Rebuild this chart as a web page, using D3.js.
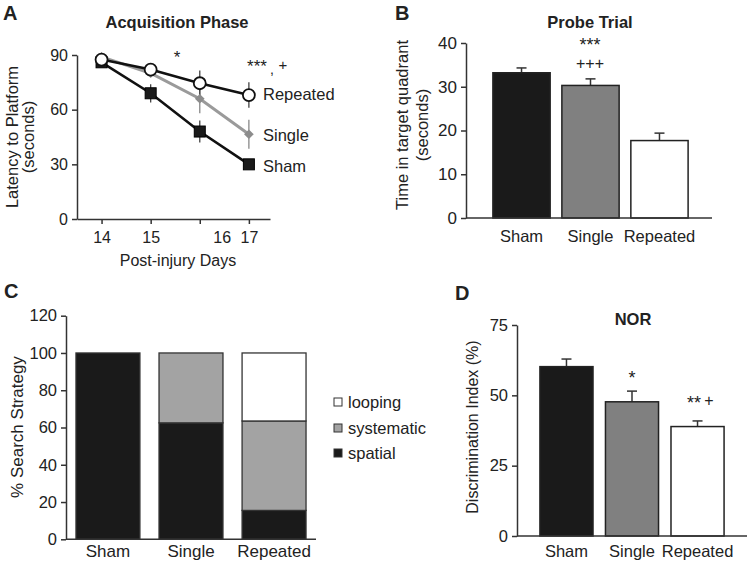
<!DOCTYPE html>
<html><head><meta charset="utf-8">
<script src="https://cdn.jsdelivr.net/npm/d3@7"></script>
<style>
html,body{margin:0;padding:0;background:#fff;}
text{font-family:"Liberation Sans",Arial,Helvetica,sans-serif;fill:#222;}
</style></head>
<body>
<svg id="c" width="747" height="563"></svg>
<script>
// ---------- Data ----------
const days = [14, 15, 16, 17];
const dayTicks = [14, 15, 16, 17];
const shamLatency = [86, 69, 48, 30];
const shamLatErr = [1.5, 5, 6, 1.5];
const singleLatency = [89, 80, 66, 46.5];
const singleLatErr = [1, 2, 8, 8];
const repeatedLatency = [87.5, 82, 74.5, 68];
const repeatedLatErr = [1.5, 1.5, 7, 7];
const latencyTicks = [0, 30, 60, 90];

const groups = ["Sham", "Single", "Repeated"];
const probeTime = [33.2, 30.3, 17.7];
const probeErr = [1.1, 1.5, 1.7];
const probeTicks = [0, 10, 20, 30, 40];

const strategies = ["spatial", "systematic", "looping"];
const spatialPct = [100, 62.5, 15.5];
const systematicPct = [0, 37.5, 48];
const loopingPct = [0, 0, 36.5];
const strategyTicks = [0, 20, 40, 60, 80, 100, 120];
const legendOrder = ["looping", "systematic", "spatial"];

const discIndex = [60.2, 47.7, 38.9];
const discErr = [2.7, 3.8, 2.0];
const discTicks = [0, 25, 50, 75];

const groupFill = ["#1a1a1a", "#808080", "#ffffff"];
const strategyFill = {spatial: "#1a1a1a", systematic: "#a3a3a3", looping: "#ffffff"};

// ---------- Helpers ----------
const svg = d3.select("#c");
svg.append("rect").attr("width", 747).attr("height", 563).attr("fill", "#fff");
const AX = "#333";

function styleAxis(g, fs) {
  g.selectAll("path.domain").attr("stroke", AX).attr("stroke-width", 1.5);
  g.selectAll(".tick line").attr("stroke", AX).attr("stroke-width", 1.5);
  g.selectAll(".tick text").attr("font-size", fs).attr("fill", "#222")
    .style("font-family", '"Liberation Sans",Arial,sans-serif');
}
function txt(x, y, s, opt = {}) {
  const t = svg.append("text").attr("x", x).attr("y", y).text(s)
    .attr("font-size", opt.fs || 15)
    .attr("text-anchor", opt.anchor || "start")
    .attr("font-weight", opt.bold ? "bold" : "normal");
  if (opt.rot) t.attr("transform", `rotate(-90,${x},${y})`);
  if (opt.ls) t.attr("letter-spacing", opt.ls);
  return t;
}

// ---------- Panel A ----------
{
  const x = d3.scaleLinear().domain([13.5, 17.43]).range([77, 270]);
  const y = d3.scaleLinear().domain([0, 90]).range([219, 55]);
  const gy = svg.append("g").attr("transform", "translate(77,0)")
    .call(d3.axisLeft(y).tickValues(latencyTicks).tickSize(5).tickSizeOuter(0).tickPadding(4));
  styleAxis(gy, 16);
  const gx = svg.append("g").attr("transform", "translate(0,219)")
    .call(d3.axisBottom(x).tickValues(dayTicks).tickFormat(d3.format("d")).tickSize(5).tickSizeOuter(0).tickPadding(8));
  styleAxis(gx, 16);
  gx.selectAll(".tick text").filter(d => d === 16).attr("dx", 22);

  const series = [
    {v: shamLatency, e: shamLatErr, color: "#111", w: 2.6, shape: "square"},
    {v: singleLatency, e: singleLatErr, color: "#9a9a9a", w: 3, shape: "diamond"},
    {v: repeatedLatency, e: repeatedLatErr, color: "#111", w: 2.6, shape: "circle"}
  ];
  series.forEach(s => {
    days.forEach((d, i) => {
      svg.append("line").attr("x1", x(d)).attr("x2", x(d))
        .attr("y1", y(s.v[i] - s.e[i])).attr("y2", y(s.v[i] + s.e[i]))
        .attr("stroke", s.shape === "diamond" ? "#888" : "#444").attr("stroke-width", 1.3);
    });
  });
  const line = d3.line().x((d, i) => x(days[i])).y(d => y(d));
  series.forEach(s => {
    svg.append("path").datum(s.v).attr("d", line).attr("fill", "none")
      .attr("stroke", s.color).attr("stroke-width", s.w);
  });
  series.forEach(s => {
    days.forEach((d, i) => {
      const cx = x(d), cy = y(s.v[i]);
      if (s.shape === "square") {
        svg.append("rect").attr("x", cx - 5.5).attr("y", cy - 5.5).attr("width", 11).attr("height", 11)
          .attr("fill", "#1a1a1a").attr("stroke", "#000").attr("stroke-width", 1);
      } else if (s.shape === "diamond") {
        svg.append("path").attr("d", d3.symbol(d3.symbolDiamond2, 60)())
          .attr("transform", `translate(${cx},${cy})`).attr("fill", "#8c8c8c");
      } else {
        svg.append("circle").attr("cx", cx).attr("cy", cy).attr("r", 6)
          .attr("fill", "#fff").attr("stroke", "#111").attr("stroke-width", 1.8);
      }
    });
  });
  txt(263, 100, "Repeated", {fs: 16.5});
  txt(263, 141, "Single", {fs: 16.5});
  txt(263, 172, "Sham", {fs: 16.5});
  txt(177, 63, "*", {fs: 17, anchor: "middle"});
  txt(257, 72, "***", {fs: 17, anchor: "middle"});
  txt(272, 74, ",", {fs: 14, anchor: "middle"});
  txt(283, 70, "+", {fs: 15, anchor: "middle"});
  txt(177, 28, "Acquisition Phase", {fs: 16.5, anchor: "middle", bold: true});
  txt(3, 20, "A", {fs: 20, bold: true});
  txt(18, 137, "Latency to Platform", {fs: 16.5, anchor: "middle", rot: true});
  txt(34, 137, "(seconds)", {fs: 16.5, anchor: "middle", rot: true});
  txt(178, 266, "Post-injury Days", {fs: 16, anchor: "middle"});
}

// ---------- Panel B ----------
{
  const x = d3.scaleBand().domain(groups).range([486, 695]).paddingInner(0.17).paddingOuter(0.1);
  const y = d3.scaleLinear().domain([0, 40]).range([218, 43]);
  const gy = svg.append("g").attr("transform", "translate(466,0)")
    .call(d3.axisLeft(y).tickValues(probeTicks).tickSize(5).tickSizeOuter(0).tickPadding(4));
  styleAxis(gy, 17);
  groups.forEach((g, i) => {
    const cx = x(g) + x.bandwidth() / 2;
    svg.append("line").attr("x1", cx).attr("x2", cx).attr("y1", y(probeTime[i]))
      .attr("y2", y(probeTime[i] + probeErr[i])).attr("stroke", "#333").attr("stroke-width", 1.5);
    svg.append("line").attr("x1", cx - 5).attr("x2", cx + 5).attr("y1", y(probeTime[i] + probeErr[i]))
      .attr("y2", y(probeTime[i] + probeErr[i])).attr("stroke", "#333").attr("stroke-width", 1.5);
    svg.append("rect").attr("x", x(g)).attr("y", y(probeTime[i])).attr("width", x.bandwidth())
      .attr("height", y(0) - y(probeTime[i])).attr("fill", groupFill[i])
      .attr("stroke", "#222").attr("stroke-width", 1.5);
  });
  const gx = svg.append("g").attr("transform", "translate(0,218)")
    .call(d3.axisBottom(x).tickSize(0).tickPadding(12));
  gx.select("path.domain").remove();
  styleAxis(gx, 16.5);
  svg.append("line").attr("x1", 466).attr("x2", 712).attr("y1", 218).attr("y2", 218)
    .attr("stroke", AX).attr("stroke-width", 1.5);
  txt(590, 51, "***", {fs: 18, anchor: "middle"});
  txt(590, 69, "+++", {fs: 16, anchor: "middle"});
  txt(590, 28, "Probe Trial", {fs: 16.5, anchor: "middle", bold: true});
  txt(395, 20, "B", {fs: 20, bold: true});
  txt(408, 125, "Time in target quadrant", {fs: 16.5, anchor: "middle", rot: true});
  txt(428, 125, "(seconds)", {fs: 16.5, anchor: "middle", rot: true});
}

// ---------- Panel C ----------
{
  const x = d3.scaleBand().domain(groups).range([66, 316]).paddingInner(0.23).paddingOuter(0.12);
  const y = d3.scaleLinear().domain([0, 120]).range([539.3, 315.7]);
  const gy = svg.append("g").attr("transform", "translate(66,0)")
    .call(d3.axisLeft(y).tickValues(strategyTicks).tickSize(5).tickSizeOuter(0).tickPadding(4));
  styleAxis(gy, 16.5);
  const rows = groups.map((g, i) => ({group: g, spatial: spatialPct[i], systematic: systematicPct[i], looping: loopingPct[i]}));
  const stack = d3.stack().keys(strategies)(rows);
  stack.forEach(layer => {
    layer.forEach((d, i) => {
      if (d[1] - d[0] <= 0) return;
      svg.append("rect").attr("x", x(groups[i])).attr("y", y(d[1])).attr("width", x.bandwidth())
        .attr("height", y(d[0]) - y(d[1])).attr("fill", strategyFill[layer.key])
        .attr("stroke", "#333").attr("stroke-width", 1.3);
    });
  });
  const gx = svg.append("g").attr("transform", "translate(0,539.3)")
    .call(d3.axisBottom(x).tickSize(0).tickPadding(6));
  gx.select("path.domain").remove();
  styleAxis(gx, 17);
  svg.append("line").attr("x1", 66).attr("x2", 316).attr("y1", 539.3).attr("y2", 539.3)
    .attr("stroke", AX).attr("stroke-width", 1.5);
  const ly = [402, 428, 453];
  legendOrder.forEach((k, i) => {
    svg.append("rect").attr("x", 334).attr("y", ly[i] - 4).attr("width", 8).attr("height", 8)
      .attr("fill", strategyFill[k]).attr("stroke", "#333").attr("stroke-width", 1);
    txt(348, ly[i] + 5.5, k, {fs: 16.5});
  });
  txt(4, 298, "C", {fs: 20, bold: true});
  txt(23, 427, "% Search Strategy", {fs: 17, anchor: "middle", rot: true});
}

// ---------- Panel D ----------
{
  const x = d3.scaleBand().domain(groups).range([517, 747]).paddingInner(0.19).paddingOuter(0.35);
  const y = d3.scaleLinear().domain([0, 75]).range([536, 325]);
  const gy = svg.append("g").attr("transform", "translate(517,0)")
    .call(d3.axisLeft(y).tickValues(discTicks).tickSize(5).tickSizeOuter(0).tickPadding(4));
  styleAxis(gy, 16.5);
  groups.forEach((g, i) => {
    const cx = x(g) + x.bandwidth() / 2;
    svg.append("line").attr("x1", cx).attr("x2", cx).attr("y1", y(discIndex[i]))
      .attr("y2", y(discIndex[i] + discErr[i])).attr("stroke", "#333").attr("stroke-width", 1.5);
    svg.append("line").attr("x1", cx - 5).attr("x2", cx + 5).attr("y1", y(discIndex[i] + discErr[i]))
      .attr("y2", y(discIndex[i] + discErr[i])).attr("stroke", "#333").attr("stroke-width", 1.5);
    svg.append("rect").attr("x", x(g)).attr("y", y(discIndex[i])).attr("width", x.bandwidth())
      .attr("height", y(0) - y(discIndex[i])).attr("fill", groupFill[i])
      .attr("stroke", "#222").attr("stroke-width", 1.5);
  });
  const gx = svg.append("g").attr("transform", "translate(0,536)")
    .call(d3.axisBottom(x).tickSize(0).tickPadding(9));
  gx.select("path.domain").remove();
  styleAxis(gx, 16.5);
  svg.append("line").attr("x1", 517).attr("x2", 747).attr("y1", 536).attr("y2", 536)
    .attr("stroke", AX).attr("stroke-width", 1.5);
  txt(632, 384, "*", {fs: 18, anchor: "middle"});
  txt(694, 409, "**", {fs: 18, anchor: "middle"});
  txt(709, 406, "+", {fs: 16, anchor: "middle"});
  txt(633, 325, "NOR", {fs: 16.5, anchor: "middle", bold: true});
  txt(455, 300, "D", {fs: 20, bold: true});
  txt(478, 427, "Discrimination Index (%)", {fs: 16, anchor: "middle", rot: true});
}
</script>
</body></html>
